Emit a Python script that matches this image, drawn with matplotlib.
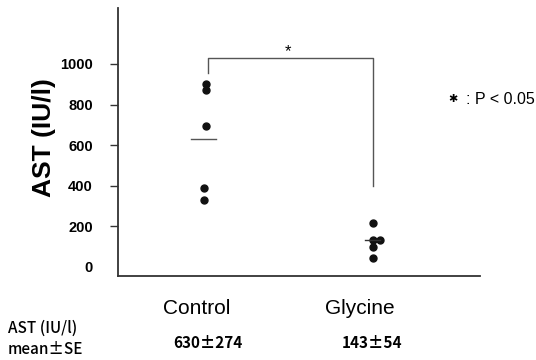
import matplotlib
matplotlib.use("Agg")
import matplotlib.pyplot as plt

plt.rcParams["font.family"] = ["Liberation Sans", "Noto Sans CJK JP", "DejaVu Sans"]
jp = ["Noto Sans CJK JP", "DejaVu Sans"]

groups = ["Control", "Glycine"]
control_vals = [900, 872, 696, 391, 330]
glycine_vals = [218, 133, 133, 100, 43]
# small sideways shift so overlapping dots show
control_dx = [0, 0, 0, -0.01, -0.01]
glycine_dx = [0, 0, 0.04, 0, 0]
means_drawn = [630, 133]
summary = ["630±274", "143±54"]
yticks = [0, 200, 400, 600, 800, 1000]

fig = plt.figure(figsize=(5.36, 3.6), dpi=100)
ax = fig.add_axes([0.2201, 0.232, 0.6754, 0.746])

ax.plot([1 + d for d in control_dx], control_vals, "o", color="#111111", ms=5)
ax.plot([2 + d for d in glycine_dx], glycine_vals, "o", color="#111111", ms=5)

# mean bars
ax.plot([0.91, 1.06], [means_drawn[0]] * 2, color="#555555", lw=1)
ax.plot([1.95, 2.04], [means_drawn[1]] * 2, color="#333333", lw=1)

# significance bracket
ax.plot([1.01, 1.01, 2.0, 2.0], [957, 1027, 1027, 399], color="#555555", lw=1)
ax.text(1.49, 1060, "*", ha="center", va="center", fontsize=12)

ax.set_xlim(0.473, 2.64)
ax.set_ylim(-47, 1276)
ax.set_xticks([])
ax.set_yticks(yticks)
ax.set_yticklabels([str(t) for t in yticks], fontsize=10.5, fontweight="bold")
ax.tick_params(axis="y", length=6, width=1, color="#333333", pad=12)
ax.yaxis.get_major_ticks()[0].tick1line.set_visible(False)

for s in ["top", "right"]:
    ax.spines[s].set_visible(False)
for s in ["left", "bottom"]:
    ax.spines[s].set_color("#333333")
    ax.spines[s].set_linewidth(1.3)

fig.text(44 / 536, 1 - 138 / 360, "AST (IU/l)", rotation=90, ha="center", va="center",
         fontsize=19, fontweight="bold")

fig.text(453 / 536, 1 - 99 / 360, "✱", ha="center", va="center", fontsize=8,
         family=["DejaVu Sans"])
fig.text(535 / 536, 1 - 99 / 360, ": P < 0.05", ha="right", va="center", fontsize=11.5)

# group names and summary table below the axis
for i, (g, s) in enumerate(zip(groups, summary)):
    xc = [197, 360][i] / 536
    fig.text(xc, 1 - 308 / 360, g, ha="center", va="center", fontsize=15)
    fig.text([208, 372][i] / 536, 1 - 343 / 360, s, ha="center", va="center", fontsize=11,
             fontweight="bold", family=jp)

fig.text(8 / 536, 1 - 328 / 360, "AST (IU/l)", ha="left", va="center", fontsize=11,
         fontweight="medium", family=jp)
fig.text(8 / 536, 1 - 350 / 360, "mean±SE", ha="left", va="center", fontsize=11,
         fontweight="medium", family=jp)

fig.savefig("out.png", dpi=100)
